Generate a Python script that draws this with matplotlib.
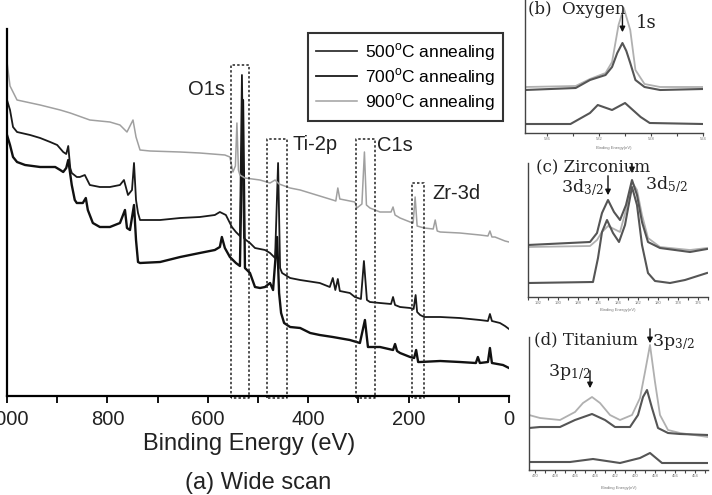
import matplotlib
matplotlib.use('Agg')
import matplotlib.pyplot as plt
from matplotlib.ticker import MultipleLocator, FixedLocator

plt.rcParams['font.family'] = ['Liberation Sans', 'DejaVu Sans']
plt.rcParams['mathtext.fontset'] = 'custom'
plt.rcParams['mathtext.rm'] = 'Liberation Sans'

# ---- (a) wide scan, binding energy (eV) vs intensity (a.u.)
labels = ['500$^\\mathrm{o}$C annealing', '700$^\\mathrm{o}$C annealing', '900$^\\mathrm{o}$C annealing']

e900 = [1000, 994, 988, 980, 934, 894, 874, 835, 795, 775, 761, 749, 743, 735, 715, 655, 616, 566, 556, 550,
        545, 542, 539, 536, 526, 496, 476, 466, 458, 436, 416, 377, 351, 345, 341, 337, 307, 303, 293, 288,
        284, 277, 257, 235, 231, 227, 217, 197, 191, 187, 183, 169, 151, 147, 143, 137, 98, 58, 42, 38,
        34, 28, 8, 0]
i900 = [334, 310, 304, 296, 291, 286, 283, 276, 274, 271, 264, 276, 259, 246, 245, 244, 243, 241, 239, 224,
        230, 273, 226, 221, 218, 216, 213, 216, 212, 208, 206, 200, 196, 195, 208, 197, 194, 188, 192, 244,
        191, 188, 184, 184, 189, 181, 178, 174, 173, 199, 170, 168, 167, 176, 165, 164, 163, 161, 160, 165,
        159, 159, 155, 154]

e700 = [1000, 994, 988, 980, 954, 934, 914, 900, 888, 882, 878, 874, 871, 861, 855, 845, 835, 815, 795, 775,
        767, 759, 751, 747, 743, 739, 735, 695, 655, 616, 586, 576, 564, 552, 544, 536, 532, 528, 524, 516,
        506, 486, 476, 466, 460, 456, 452, 436, 416, 377, 357, 351, 346, 341, 337, 317, 307, 295, 289, 283,
        277, 257, 235, 231, 227, 217, 197, 190, 186, 183, 177, 169, 137, 98, 58, 42, 38, 34, 18, 8, 0]
i700 = [296, 286, 269, 264, 261, 258, 254, 251, 244, 242, 250, 228, 223, 219, 219, 221, 211, 209, 209, 211,
        216, 201, 206, 233, 196, 183, 176, 176, 178, 179, 181, 184, 181, 169, 164, 160, 321, 158, 156, 153,
        148, 146, 143, 138, 233, 128, 123, 118, 116, 113, 109, 118, 106, 117, 105, 103, 99, 97, 135, 96,
        94, 93, 92, 99, 91, 89, 88, 87, 101, 84, 81, 79, 79, 78, 76, 75, 82, 75, 73, 70, 67]

e500 = [1000, 994, 988, 980, 964, 934, 904, 894, 888, 882, 878, 871, 865, 861, 849, 843, 839, 829, 815, 795,
        775, 765, 761, 755, 747, 743, 739, 735, 695, 655, 616, 586, 576, 572, 566, 556, 544, 536, 530, 526,
        522, 516, 506, 496, 486, 476, 470, 462, 458, 454, 448, 436, 416, 396, 377, 351, 317, 297, 287, 281,
        257, 231, 227, 223, 217, 197, 189, 185, 181, 177, 137, 98, 66, 62, 58, 42, 38, 34, 12, 0]
i500 = [261, 251, 239, 234, 231, 229, 229, 226, 224, 228, 236, 211, 196, 193, 193, 198, 186, 173, 169, 169,
        173, 186, 168, 166, 191, 156, 134, 133, 134, 139, 143, 146, 149, 159, 148, 139, 133, 130, 296, 128,
        126, 123, 109, 108, 109, 113, 106, 159, 103, 83, 73, 69, 68, 63, 61, 59, 56, 53, 76, 49,
        49, 46, 52, 45, 43, 39, 38, 46, 34, 34, 35, 34, 33, 39, 33, 34, 48, 33, 31, 28]

# dotted windows: high eV, low eV, top intensity
win_names = ['O1s', 'Ti-2p', 'C1s', 'Zr-3d']
win_hi = [554, 482, 305, 193]
win_lo = [518, 442, 267, 169]
win_top = [331, 257, 257, 213]

# ---- (b) oxygen
ob_e700 = [537.7, 533.8, 532.7, 531.5, 531.0, 530.6, 530.2, 529.9, 529.6, 529.2, 528.5, 527.3, 524.0]
ob_700 = [43, 45, 53, 58, 66, 80, 90, 82, 70, 53, 46, 43, 44]
ob_e900 = [537.7, 533.8, 532.7, 531.5, 531.0, 530.5, 530.1, 529.6, 529.2, 528.5, 527.3, 524.0]
ob_900 = [46, 47, 54, 60, 71, 108, 125, 103, 63, 49, 46, 46]
ob_e500 = [537.7, 534.2, 532.7, 532.1, 531.0, 530.0, 528.8, 528.1, 524.0]
ob_500 = [9, 9, 20, 28, 23, 30, 16, 10, 9]

# ---- (c) zirconium
zr_e = [193.0, 186.8, 186.1, 185.6, 185.0, 184.4, 183.8, 183.2, 182.6, 182.1, 181.6, 181.0, 179.8, 176.8, 175.1]
zr_700 = [52, 55, 64, 84, 97, 85, 77, 92, 117, 102, 75, 55, 49, 45, 48]
zr_900 = [50, 51, 57, 65, 71, 68, 65, 87, 115, 107, 82, 59, 50, 47, 49]
zr_e500 = [193.0, 186.5, 186.0, 185.6, 185.1, 184.5, 183.9, 183.3, 182.6, 182.1, 181.6, 181.0, 180.3, 178.8,
           177.3, 175.1]
zr_500 = [14, 15, 39, 65, 77, 64, 55, 72, 110, 92, 52, 24, 16, 14, 17, 24]

# ---- (d) titanium
ti_e900 = [470.6, 469.5, 467.5, 466.0, 465.2, 464.3, 463.5, 462.5, 461.5, 460.3, 459.5, 459.0, 458.5, 458.0,
           457.5, 456.7, 455.5, 452.7]
ti_900 = [55, 52, 50, 58, 67, 73, 67, 55, 50, 55, 72, 98, 125, 88, 55, 40, 37, 33]
ti_e700 = [470.6, 469.5, 467.5, 466.0, 464.3, 463.0, 462.0, 460.5, 459.7, 459.2, 458.8, 458.3, 457.7, 456.7,
           455.5, 452.7]
ti_700 = [42, 43, 43, 50, 56, 50, 43, 43, 55, 73, 80, 62, 42, 37, 36, 35]
ti_e500 = [470.6, 466.5, 464.2, 461.5, 459.5, 458.5, 457.3, 452.7]
ti_500 = [8, 8, 11, 7, 12, 17, 7, 7]

W, H = 712.0, 495.0
fig = plt.figure(figsize=(7.12, 4.95), dpi=100)

# main axes
ax = fig.add_axes([7 / W, (H - 396) / H, 502 / W, 367 / H])
l5, = ax.plot(e500, i500, color='#111111', lw=1.7)
l7, = ax.plot(e700, i700, color='#1a1a1a', lw=1.3)
l9, = ax.plot(e900, i900, color='#a0a0a0', lw=1.1)
for hi, lo, top in zip(win_hi, win_lo, win_top):
    ax.plot([hi, hi, lo, lo, hi], [-2, top, top, -2, -2], color='#222222', lw=1.1,
            ls=(0, (1.6, 1.4)), clip_on=False)
ax.text(566, 306, 'O1s', fontsize=14.5, ha='right', va='center', color='#222222')
ax.text(432, 251, 'Ti-2p', fontsize=14.5, ha='left', va='center', color='#222222')
ax.text(263, 250, 'C1s', fontsize=14.5, ha='left', va='center', color='#222222')
ax.text(153, 202, 'Zr-3d', fontsize=14.5, ha='left', va='center', color='#222222')

ax.set_xlim(1000, 0)
ax.set_ylim(0, 367)
ax.xaxis.set_major_locator(MultipleLocator(200))
ax.xaxis.set_minor_locator(MultipleLocator(100))
ax.tick_params(axis='x', which='both', direction='out', length=5, width=1.3, labelsize=14.5,
               labelcolor='#222222', pad=5)
ax.set_yticks([])
for s in ['top', 'right']:
    ax.spines[s].set_visible(False)
for s in ['left', 'bottom']:
    ax.spines[s].set_linewidth(1.6)

leg = ax.legend([l5, l7, l9], labels, loc='upper left', bbox_to_anchor=((308 - 7) / 502, (396 - 33) / 367),
                borderaxespad=0, fontsize=12.5, handlelength=2.4, handletextpad=0.45, labelspacing=0.2,
                borderpad=0.45, fancybox=False, framealpha=1)
leg.get_frame().set_edgecolor('#333333')
leg.get_frame().set_linewidth(1.5)
leg.get_lines()[0].set_color('#333333')
leg.get_lines()[0].set_linewidth(1.3)

fig.text(249 / W, 1 - 444 / H, 'Binding Energy (eV)', fontsize=17, ha='center', va='center', color='#222222')
fig.text(258 / W, 1 - 483 / H, '(a) Wide scan', fontsize=17, ha='center', va='center', color='#222222')

# insets
serif = ['DejaVu Serif']


def inset(rect, xlim, major, minor, ymax, xlab_y):
    a = fig.add_axes(rect)
    a.set_xlim(*xlim)
    a.set_ylim(0, ymax)
    a.xaxis.set_major_locator(FixedLocator(major))
    a.xaxis.set_minor_locator(FixedLocator(minor))
    a.set_xticklabels([str(v) for v in major])
    a.tick_params(axis='x', which='both', direction='out', length=2, width=0.8, labelsize=3,
                  labelcolor='#777777', pad=1, color='#444444')
    a.set_yticks([])
    for s in ['top', 'right']:
        a.spines[s].set_visible(False)
    for s in ['left', 'bottom']:
        a.spines[s].set_linewidth(1.0)
        a.spines[s].set_color('#444444')
    fig.text((rect[0] + rect[2] / 2), 1 - xlab_y / H, 'Binding Energy(eV)', fontsize=3,
             ha='center', va='center', color='#777777')
    return a


ab = inset([525 / W, (H - 133) / H, 178 / W, 133 / H], (537.7, 524.0), [536, 532, 528, 524],
           [534, 530, 526], 133, 148)
ab.plot(ob_e900, ob_900, color='#b0b0b0', lw=1.3)
ab.plot(ob_e700, ob_700, color='#555555', lw=1.5)
ab.plot(ob_e500, ob_500, color='#555555', lw=1.5)
ab.annotate('', xy=(530.2, 98), xytext=(530.2, 121), annotation_clip=False,
            arrowprops=dict(arrowstyle='-|>', color='#111111', lw=1.0, mutation_scale=8))
ab.text(529.2, 110, '1s', fontsize=13, family=serif, ha='left', va='center', color='#222222')
fig.text(528 / W, 1 - 9 / H, '(b)  Oxygen', fontsize=12, family=serif, ha='left', va='center', color='#222222')

ac = inset([528 / W, (H - 297) / H, 180 / W, 134 / H], (193.0, 175.0), list(range(192, 175, -2)),
           list(range(193, 174, -1)), 134, 310)
ac.plot(zr_e, zr_900, color='#b0b0b0', lw=1.3)
ac.plot(zr_e, zr_700, color='#555555', lw=1.5)
ac.plot(zr_e500, zr_500, color='#555555', lw=1.5)
ac.annotate('', xy=(185.0, 99), xytext=(185.0, 124), annotation_clip=False,
            arrowprops=dict(arrowstyle='-|>', color='#111111', lw=1.0, mutation_scale=8))
ac.annotate('', xy=(182.6, 121), xytext=(182.6, 136), annotation_clip=False,
            arrowprops=dict(arrowstyle='-|>', color='#111111', lw=1.0, mutation_scale=8))
ac.text(187.6, 109, '3d$_{3/2}$', fontsize=12.5, family=serif, math_fontfamily='dejavuserif',
        ha='center', va='center', color='#222222')
ac.text(181.3, 112, '3d$_{5/2}$', fontsize=12.5, family=serif, math_fontfamily='dejavuserif',
        ha='left', va='center', color='#222222')
fig.text(536 / W, 1 - 168 / H, '(c) Zirconium', fontsize=12, family=serif, ha='left', va='center',
         color='#222222')

ad = inset([529 / W, (H - 470) / H, 179 / W, 133 / H], (470.6, 452.7), list(range(470, 453, -2)),
           list(range(470, 452, -1)), 133, 488)
ad.plot(ti_e900, ti_900, color='#b0b0b0', lw=1.3)
ad.plot(ti_e700, ti_700, color='#555555', lw=1.5)
ad.plot(ti_e500, ti_500, color='#555555', lw=1.5)
ad.annotate('', xy=(458.5, 124), xytext=(458.5, 144), annotation_clip=False,
            arrowprops=dict(arrowstyle='-|>', color='#111111', lw=1.0, mutation_scale=8))
ad.annotate('', xy=(464.5, 79), xytext=(464.5, 102), annotation_clip=False,
            arrowprops=dict(arrowstyle='-|>', color='#111111', lw=1.0, mutation_scale=8))
ad.text(458.3, 128, '3p$_{3/2}$', fontsize=12.5, family=serif, math_fontfamily='dejavuserif',
        ha='left', va='center', color='#222222')
ad.text(468.7, 98, '3p$_{1/2}$', fontsize=12.5, family=serif, math_fontfamily='dejavuserif',
        ha='left', va='center', color='#222222')
fig.text(534 / W, 1 - 340 / H, '(d) Titanium', fontsize=12, family=serif, ha='left', va='center',
         color='#222222')

plt.savefig('out.png', dpi=100)
